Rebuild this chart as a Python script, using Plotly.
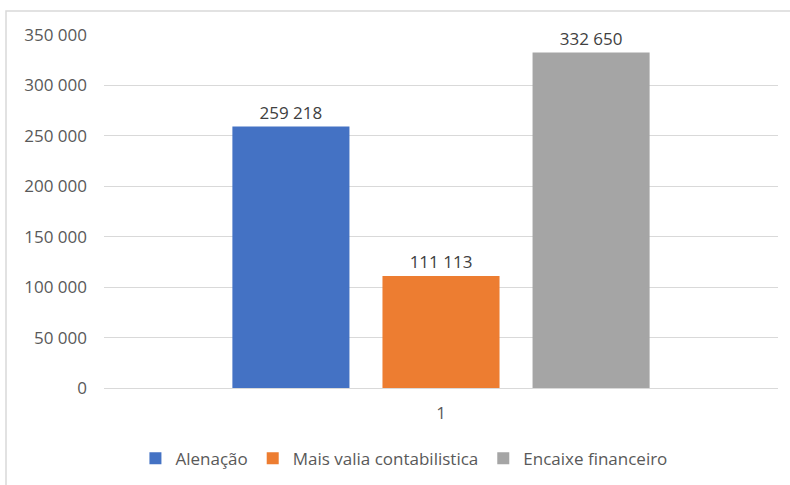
import plotly.graph_objects as go

categories = ["1"]
series_names = ["Alenação", "Mais valia contabilistica", "Encaixe financeiro"]
series_values = [[259218], [111113], [332650]]
series_colors = ["#4472C4", "#ED7D31", "#A5A5A5"]
tick_values = [0, 50000, 100000, 150000, 200000, 250000, 300000, 350000]
tick_labels = ["0", "50 000", "100 000", "150 000", "200 000", "250 000", "300 000", "350 000"]


def fmt(v):
    return f"{v:,}".replace(",", " ")


fig = go.Figure()
for name, vals, color in zip(series_names, series_values, series_colors):
    fig.add_trace(
        go.Bar(
            x=categories,
            y=vals,
            name=name,
            marker=dict(color=color, line=dict(width=0)),
            text=[fmt(v) for v in vals],
            textposition="outside",
            textfont=dict(size=17, color="#404040"),
            cliponaxis=False,
        )
    )

font_family = "Open Sans, Noto Sans, sans-serif"
fig.update_layout(
    width=790,
    height=485,
    margin=dict(l=104, r=12, t=35, b=97, autoexpand=False),
    paper_bgcolor="white",
    plot_bgcolor="white",
    font=dict(family=font_family, size=17, color="#595959"),
    barmode="group",
    bargap=0.332,
    bargroupgap=0.22,
    showlegend=True,
    legend=dict(
        orientation="h",
        x=0.445,
        xanchor="center",
        y=-0.2,
        yanchor="middle",
        font=dict(size=17, color="#595959"),
        itemwidth=30,
        traceorder="normal",
    ),
)
fig.update_xaxes(
    type="category",
    automargin=False,
    showgrid=False,
    showline=True,
    linecolor="#d9d9d9",
    linewidth=1,
    ticks="",
    ticklabelstandoff=10,
)
fig.update_yaxes(
    range=[0, 350000],
    automargin=False,
    tickvals=tick_values,
    ticktext=tick_labels,
    showgrid=True,
    gridcolor="#d9d9d9",
    gridwidth=1,
    zeroline=False,
    showline=False,
    ticks="",
    ticklabelstandoff=16,
)
# chart border like the spreadsheet frame
fig.add_shape(
    type="rect",
    xref="paper",
    yref="paper",
    x0=-0.1454,
    x1=1.1,
    y0=-0.5,
    y1=1.068,
    line=dict(color="#d9d9d9", width=1.5),
    fillcolor="rgba(0,0,0,0)",
    layer="below",
)

fig.write_html(
    "out.html",
    config={"displayModeBar": False},
    post_script="document.body.style.margin='0';",
)
